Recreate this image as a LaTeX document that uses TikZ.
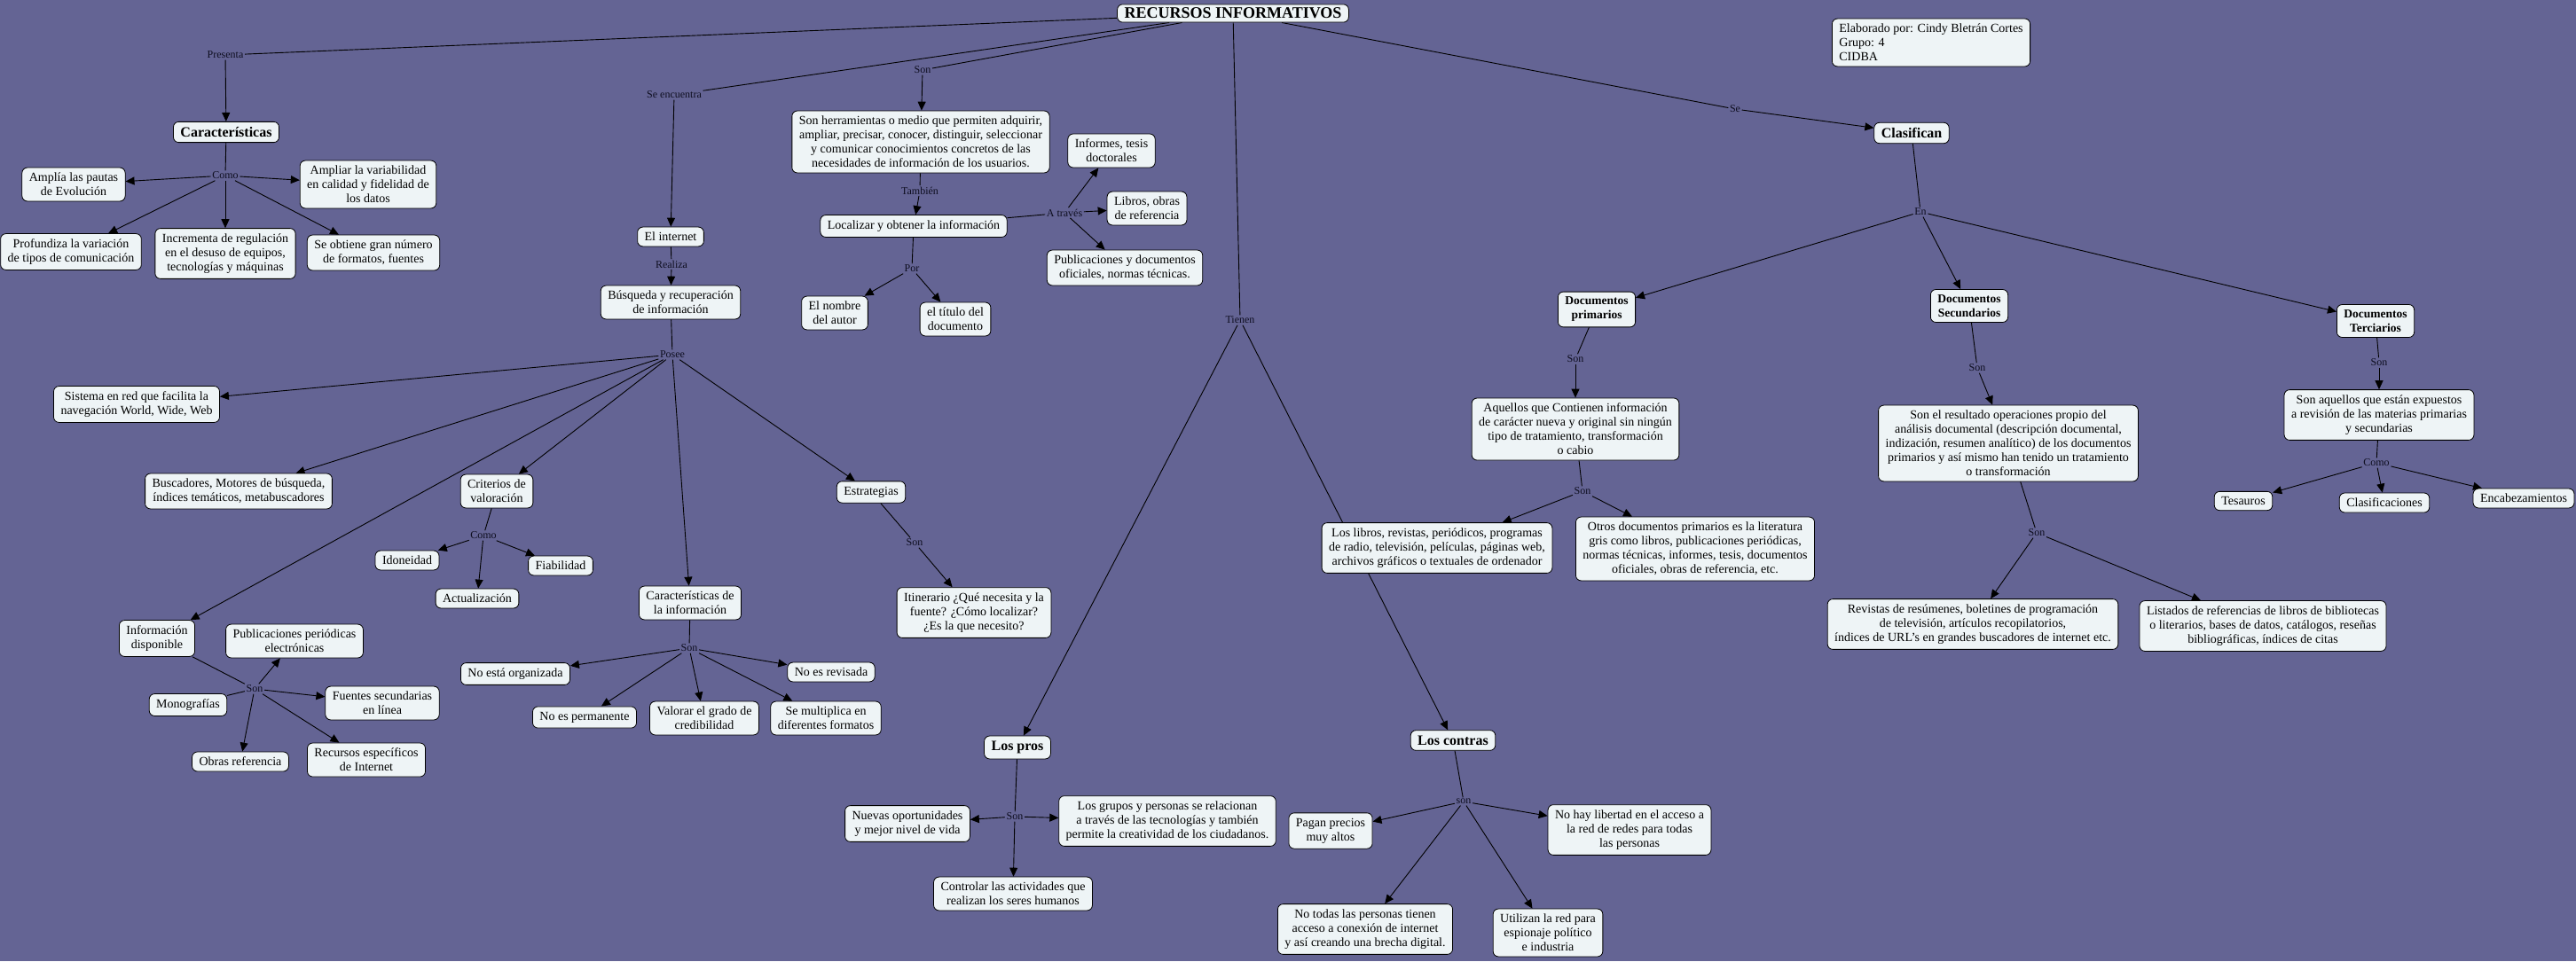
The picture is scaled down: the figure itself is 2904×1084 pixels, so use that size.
\documentclass[tikz,border=0pt]{standalone}
\usepackage{fontspec}
\setmainfont{Liberation Serif}
\usetikzlibrary{arrows.meta, positioning}

\definecolor{mapbg}{RGB}{100,100,148}
\definecolor{boxfill}{RGB}{238,244,246}
\definecolor{wordcol}{RGB}{14,14,32}

\pgfdeclarelayer{back}
\pgfdeclarelayer{edges}
\pgfsetlayers{back,edges,main}

\begin{document}
\begin{tikzpicture}[
    x=1pt, y=-1pt,
    block/.style={rectangle, draw, line width=0.8pt, fill=boxfill, rounded corners=6pt, align=center, inner xsep=8pt, inner ysep=6pt, font=\fontsize{14}{16}\selectfont},
    head/.style={block, font=\fontsize{16}{18}\selectfont\bfseries},
    subhead/.style={block, font=\fontsize{13.5}{16}\selectfont\bfseries},
    title/.style={block, inner ysep=4pt, font=\fontsize{18}{20}\selectfont\bfseries},
    word/.style={inner sep=1.5pt, text=wordcol, font=\fontsize{12}{14}\selectfont},
    plain/.style={draw, line width=0.9pt},
    line/.style={plain, -{Triangle[length=10pt, width=9pt]}}
]
\useasboundingbox (0,0) rectangle (2904,1084);

% Nodes
\node [title] (rec) at (1390,15) {RECURSOS INFORMATIVOS};
\node [block, align=left] (autor) at (2177,48) {Elaborado por: Cindy Bletrán Cortes\\Grupo: 4\\CIDBA};

% linking words
\node [word] (lpres) at (254,62) {Presenta};
\node [word] (lcomo1) at (254,198) {Como};
\node [word] (lenc) at (760,107) {Se encuentra};
\node [word] (lson1) at (1040,79) {Son};
\node [word] (ltamb) at (1037,215) {También};
\node [word] (lpor) at (1028,303) {Por};
\node [word] (latrav) at (1200,240) {A través};
\node [word] (lrealiza) at (757,298) {Realiza};
\node [word] (lposee) at (758,400) {Posee};
\node [word] (lcomo2) at (545,604) {Como};
\node [word] (lson2) at (287,777) {Son};
\node [word] (lson3) at (777,731) {Son};
\node [word] (lson4) at (1031,612) {Son};
\node [word] (ltienen) at (1398,361) {Tienen};
\node [word] (lson5) at (1144,921) {Son};
\node [word] (lson6) at (1650,904) {son};
\node [word] (lse) at (1956,123) {Se};
\node [word] (len) at (2165,239) {En};
\node [word] (lson7) at (1776,405) {Son};
\node [word] (lson8) at (1784,554) {Son};
\node [word] (lson9) at (2229,415) {Son};
\node [word] (lson10) at (2296,601) {Son};
\node [word] (lson11) at (2682,409) {Son};
\node [word] (lcomo3) at (2679,522) {Como};

% Caracteristicas
\node [head] (car) at (255,149) {Características};
\node [block] (ampl) at (83,208) {Amplía las pautas\\de Evolución};
\node [block] (ampv) at (415,208) {Ampliar la variabilidad\\en calidad y fidelidad de\\los datos};
\node [block] (prof) at (80,284) {Profundiza la variación\\de tipos de comunicación};
\node [block] (incr) at (254,286) {Incrementa de regulación\\en el desuso de equipos,\\tecnologías y máquinas};
\node [block] (obt) at (421,285) {Se obtiene gran número\\de formatos, fuentes};

% Son herramientas
\node [block] (herr) at (1038,160) {Son herramientas o medio que permiten adquirir,\\ampliar, precisar, conocer, distinguir, seleccionar\\y comunicar conocimientos concretos de las\\necesidades de información de los usuarios.};
\node [block] (loc) at (1030,255) {Localizar y obtener la información};
\node [block] (nombre) at (941,353) {El nombre\\del autor};
\node [block] (titulo) at (1077,360) {el título del\\documento};
\node [block] (inf) at (1253,170) {Informes, tesis\\doctorales};
\node [block] (libr) at (1293,235) {Libros, obras\\de referencia};
\node [block] (publ) at (1268,302) {Publicaciones y documentos\\oficiales, normas técnicas.};

% Internet
\node [block] (inet) at (756,267) {El internet};
\node [block] (busq) at (756,341) {Búsqueda y recuperación\\de información};
\node [block] (sist) at (154,456) {Sistema en red que facilita la\\navegación World, Wide, Web};
\node [block] (busc) at (269,554) {Buscadores, Motores de búsqueda,\\índices temáticos, metabuscadores};
\node [block] (crit) at (560,554) {Criterios de\\valoración};
\node [block] (idon) at (459,632) {Idoneidad};
\node [block] (fiab) at (632,638) {Fiabilidad};
\node [block] (actu) at (538,675) {Actualización};
\node [block] (infd) at (177,720) {Información\\disponible};
\node [block] (pper) at (332,723) {Publicaciones periódicas\\electrónicas};
\node [block] (mono) at (212,795) {Monografías};
\node [block] (fsec) at (431,793) {Fuentes secundarias\\en línea};
\node [block] (obras) at (271,859) {Obras referencia};
\node [block] (recesp) at (413,857) {Recursos específicos\\de Internet};
\node [block] (estr) at (982,555) {Estrategias};
\node [block] (itin) at (1098,691) {Itinerario ¿Qué necesita y la\\fuente? ¿Cómo localizar?\\¿Es la que necesito?};
\node [block] (cinf) at (778,680) {Características de\\la información};
\node [block] (norg) at (581,760) {No está organizada};
\node [block] (nperm) at (659,809) {No es permanente};
\node [block] (nrev) at (937,758) {No es revisada};
\node [block] (valor) at (794,810) {Valorar el grado de\\credibilidad};
\node [block] (multi) at (931,810) {Se multiplica en\\diferentes formatos};

% Pros y contras
\node [head] (pros) at (1147,843) {Los pros};
\node [block] (nuev) at (1023,929) {Nuevas oportunidades\\y mejor nivel de vida};
\node [block] (grup) at (1316,926) {Los grupos y personas se relacionan\\a través de las tecnologías y también\\permite la creatividad de los ciudadanos.};
\node [block] (ctrl) at (1142,1008) {Controlar las actividades que\\realizan los seres humanos};
\node [head] (contras) at (1638,835) {Los contras};
\node [block] (pagan) at (1500,937) {Pagan precios\\muy altos};
\node [block] (libert) at (1837,936) {No hay libertad en el acceso a\\la red de redes para todas\\las personas};
\node [block] (todas) at (1539,1048) {No todas las personas tienen\\acceso a conexión de internet\\y así creando una brecha digital.};
\node [block] (espi) at (1745,1052) {Utilizan la red para\\espionaje político\\e industria};

% Clasifican
\node [head] (clas) at (2155,150) {Clasifican};
\node [subhead] (dprim) at (1800,349) {Documentos\\primarios};
\node [subhead] (dsec) at (2220,345) {Documentos\\Secundarios};
\node [subhead] (dter) at (2678,362) {Documentos\\Terciarios};
\node [block] (aqu) at (1776,484) {Aquellos que Contienen información\\de carácter nueva y original sin ningún\\tipo de tratamiento, transformación\\o cabio};
\node [block] (libros) at (1620,618) {Los libros, revistas, periódicos, programas\\de radio, televisión, películas, páginas web,\\archivos gráficos o textuales de ordenador};
\node [block] (otros) at (1911,619) {Otros documentos primarios es la literatura\\gris como libros, publicaciones periódicas,\\normas técnicas, informes, tesis, documentos\\oficiales, obras de referencia, etc.};
\node [block] (result) at (2264,500) {Son el resultado operaciones propio del\\análisis documental (descripción documental,\\indización, resumen analítico) de los documentos\\primarios y así mismo han tenido un tratamiento\\o transformación};
\node [block] (revis) at (2224,704) {Revistas de resúmenes, boletines de programación\\de televisión, artículos recopilatorios,\\índices de URL’s en grandes buscadores de internet etc.};
\node [block] (listad) at (2551,706) {Listados de referencias de libros de bibliotecas\\o literarios, bases de datos, catálogos, reseñas\\bibliográficas, índices de citas};
\node [block] (saqu) at (2682,468) {Son aquellos que están expuestos\\a revisión de las materias primarias\\y secundarias};
\node [block] (tes) at (2529,565) {Tesauros};
\node [block] (clasi) at (2688,567) {Clasificaciones};
\node [block] (encab) at (2845,562) {Encabezamientos};

% Edges
\begin{pgfonlayer}{edges}
\path [plain] (rec) -- (lpres);
\path [line] (lpres) -- (car);
\path [plain] (rec) -- (lenc);
\path [line] (lenc) -- (inet);
\path [plain] (rec) -- (lson1);
\path [line] (lson1) -- (herr);
\path [plain] (rec) -- (ltienen);
\path [line] (ltienen) -- (pros);
\path [line] (ltienen) -- (contras);
\path [plain] (rec) -- (lse);
\path [line] (lse) -- (clas);

\path [plain] (car) -- (lcomo1);
\foreach \t in {ampl,ampv,prof,incr,obt}
    \path [line] (lcomo1) -- (\t);

\path [plain] (herr) -- (ltamb);
\path [line] (ltamb) -- (loc);
\path [plain] (loc) -- (lpor);
\foreach \t in {nombre,titulo}
    \path [line] (lpor) -- (\t);
\path [plain] (loc) -- (latrav);
\foreach \t in {inf,libr,publ}
    \path [line] (latrav) -- (\t);

\path [plain] (inet) -- (lrealiza);
\path [line] (lrealiza) -- (busq);
\path [plain] (busq) -- (lposee);
\foreach \t in {sist,busc,infd,crit,cinf,estr}
    \path [line] (lposee) -- (\t);
\path [plain] (crit) -- (lcomo2);
\foreach \t in {idon,actu,fiab}
    \path [line] (lcomo2) -- (\t);
\path [plain] (infd) -- (lson2);
\path [plain] (mono) -- (lson2);
\foreach \t in {pper,fsec,recesp,obras}
    \path [line] (lson2) -- (\t);
\path [plain] (cinf) -- (lson3);
\foreach \t in {norg,nperm,valor,multi,nrev}
    \path [line] (lson3) -- (\t);
\path [plain] (estr) -- (lson4);
\path [line] (lson4) -- (itin);

\path [plain] (pros) -- (lson5);
\foreach \t in {nuev,grup,ctrl}
    \path [line] (lson5) -- (\t);
\path [plain] (contras) -- (lson6);
\foreach \t in {pagan,libert,todas,espi}
    \path [line] (lson6) -- (\t);

\path [plain] (clas) -- (len);
\foreach \t in {dprim,dsec,dter}
    \path [line] (len) -- (\t);
\path [plain] (dprim) -- (lson7);
\path [line] (lson7) -- (aqu);
\path [plain] (aqu) -- (lson8);
\foreach \t in {libros,otros}
    \path [line] (lson8) -- (\t);
\path [plain] (dsec) -- (lson9);
\path [line] (lson9) -- (result);
\path [plain] (result) -- (lson10);
\foreach \t in {revis,listad}
    \path [line] (lson10) -- (\t);
\path [plain] (dter) -- (lson11);
\path [line] (lson11) -- (saqu);
\path [plain] (saqu) -- (lcomo3);
\foreach \t in {tes,clasi,encab}
    \path [line] (lcomo3) -- (\t);
\end{pgfonlayer}

\begin{pgfonlayer}{back}
\fill [mapbg] (0,0) rectangle (2904,1084);
\end{pgfonlayer}
\end{tikzpicture}
\end{document}
